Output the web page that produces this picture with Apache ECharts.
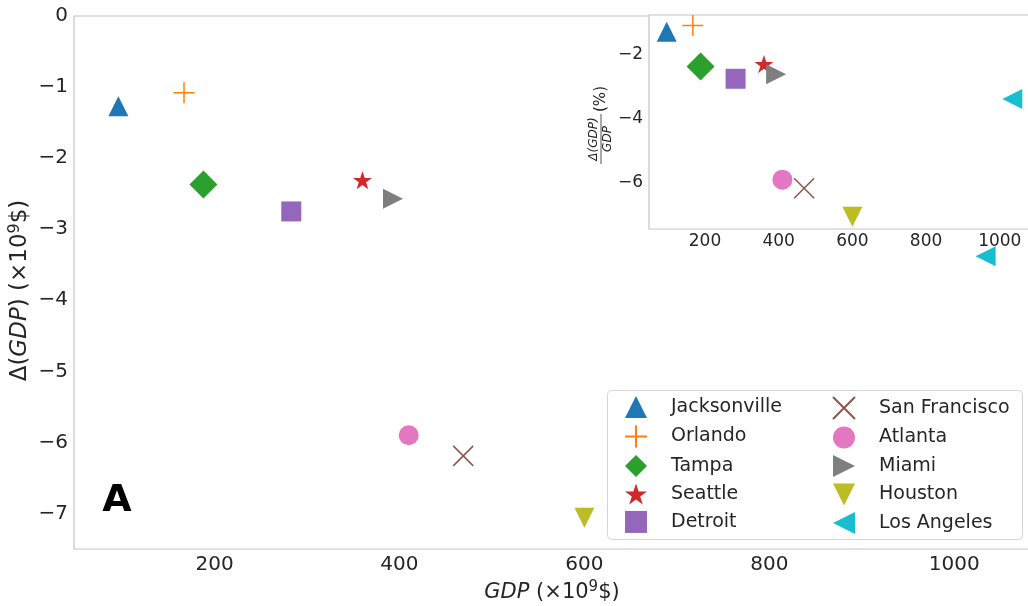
<!DOCTYPE html>
<html>
<head>
<meta charset="utf-8">
<script src="https://cdn.jsdelivr.net/npm/echarts@6/dist/echarts.min.js"></script>
<style>
  html, body { margin: 0; padding: 0; background: #fff; }
  #chart { width: 1028px; height: 606px; }
</style>
</head>
<body>
<div id="chart"></div>
<script>
// City GDP (x10^9 $) against the GDP change, in absolute terms and in percent
const cities = ['Jacksonville', 'Orlando', 'Tampa', 'Seattle', 'Detroit',
                'San Francisco', 'Atlanta', 'Miami', 'Houston', 'Los Angeles'];
const gdp = [96, 167, 188, 360, 283, 469, 410, 393, 600, 1034];
const dGdp = [-1.27, -1.08, -2.37, -2.31, -2.75, -6.19, -5.90, -2.57, -7.06, -3.38];
const dGdpPct = [-1.28, -1.09, -2.37, -2.29, -2.75, -6.17, -5.90, -2.61, -7.06, -3.38];

const gdpTicks = [200, 400, 600, 800, 1000];
const dGdpTicks = [-7, -6, -5, -4, -3, -2, -1, 0];
const pctTicks = [-6, -4, -2];

const colors = ['#1f77b4', '#ff7f0e', '#2ca02c', '#d62728', '#9467bd',
                '#8c564b', '#e377c2', '#7f7f7f', '#bcbd22', '#17becf'];

const FONT = 'DejaVu Sans';
const TXT = '#262626';
const SPINE = '#c4c4c4';

function starPath() {
  let d = '';
  for (let i = 0; i < 10; i++) {
    const r = i % 2 ? 0.382 : 1;
    const a = Math.PI / 2 + i * Math.PI / 5;
    d += (i ? 'L' : 'M') + (r * Math.cos(a)).toFixed(4) + ',' + (-r * Math.sin(a)).toFixed(4);
  }
  return 'path://' + d + 'Z';
}

// marker look per city: shape, size, outline-only
const markers = [
  { symbol: 'path://M0,-1L1,1L-1,1Z', size: 20 },          // triangle up
  { symbol: 'path://M0,-1L0,1M-1,0L1,0', size: 21, line: true }, // plus
  { symbol: 'diamond', size: 28 },
  { symbol: starPath(), size: 19 },
  { symbol: 'rect', size: 20 },
  { symbol: 'path://M-1,-1L1,1M-1,1L1,-1', size: 20, line: true }, // cross
  { symbol: 'circle', size: 20 },
  { symbol: 'path://M-1,-1L1,0L-1,1Z', size: 20 },         // triangle right
  { symbol: 'path://M-1,-1L1,-1L0,1Z', size: 20 },         // triangle down
  { symbol: 'path://M1,-1L-1,0L1,1Z', size: 20 }           // triangle left
];

const minus = v => String(v).replace('-', '\u2212');
const plain = v => String(v);

function makeSeries(yValues, axisIdx, z) {
  return cities.map((c, i) => {
    const m = markers[i];
    return {
      type: 'scatter',
      name: c,
      xAxisIndex: axisIdx,
      yAxisIndex: axisIdx,
      data: [[gdp[i], yValues[i]]],
      symbol: m.symbol,
      symbolSize: m.size,
      symbolKeepAspect: true,
      itemStyle: m.line
        ? { color: colors[i], borderColor: colors[i], borderWidth: 1.5, opacity: 1 }
        : { color: colors[i], borderWidth: 0, opacity: 1 },
      emphasis: { disabled: true },
      z: z
    };
  });
}

function nameRich(size) {
  return {
    n: { fontFamily: FONT, fontSize: size, color: TXT },
    it: { fontFamily: FONT, fontSize: size, fontStyle: 'italic', color: TXT },
    sup: { fontFamily: FONT, fontSize: Math.round(size * 0.7), color: TXT, padding: [0, 0, 10, 0] }
  };
}

const chart = echarts.init(document.getElementById('chart'), null, { renderer: 'canvas' });

const legendCommon = {
  orient: 'vertical',
  itemWidth: 22,
  itemHeight: 22,
  itemGap: 6.5,
  selectedMode: false,
  textStyle: { fontFamily: FONT, fontSize: 19, color: TXT, padding: [0, 0, 0, 19] },
  z: 5
};

const axisBase = {
  type: 'value',
  axisLine: { show: false },
  splitLine: { show: false },
  axisTick: { show: false }
};

chart.setOption({
  animation: false,
  backgroundColor: '#fff',
  textStyle: { fontFamily: FONT },
  grid: [
    { left: 74, top: 16, right: -2, bottom: 57, outerBoundsMode: 'none', containLabel: false,
      show: true, borderColor: SPINE, borderWidth: 1.2, backgroundColor: 'transparent' },
    { left: 649, top: 15, right: -2, bottom: 377, outerBoundsMode: 'none', containLabel: false,
      show: true, borderColor: SPINE, borderWidth: 1.2, backgroundColor: '#fff', z: 3 }
  ],
  xAxis: [
    Object.assign({}, axisBase, {
      gridIndex: 0, min: 48, max: 1082,
      axisLabel: { customValues: gdpTicks, formatter: plain, fontFamily: FONT, fontSize: 20, color: TXT, margin: 6 },
      name: '{it|GDP}{n| (\u00d710}{sup|9}{n|$)}',
      nameLocation: 'middle', nameGap: 31, nameMoveOverlap: false,
      nameTextStyle: { rich: nameRich(21) }
    }),
    Object.assign({}, axisBase, {
      gridIndex: 1, min: 48, max: 1082,
      axisLabel: { customValues: gdpTicks, formatter: plain, fontFamily: FONT, fontSize: 17, color: TXT, margin: 4 },
      z: 4
    })
  ],
  yAxis: [
    Object.assign({}, axisBase, {
      gridIndex: 0, min: -7.5, max: 0,
      axisLabel: { customValues: dGdpTicks, formatter: minus, fontFamily: FONT, fontSize: 20, color: TXT, margin: 6 },
      name: '{n|\u0394(}{it|GDP}{n|) (\u00d710}{sup|9}{n|$)}',
      nameLocation: 'middle', nameGap: 41, nameMoveOverlap: false,
      nameTextStyle: { rich: nameRich(23), padding: [0, 16, 0, 0] }
    }),
    Object.assign({}, axisBase, {
      gridIndex: 1, min: -7.44, max: -0.76,
      axisLabel: { customValues: pctTicks, formatter: minus, fontFamily: FONT, fontSize: 17, color: TXT, margin: 6 },
      z: 4
    })
  ],
  legend: [
    Object.assign({ data: cities.slice(0, 5), left: 619, top: 391 }, legendCommon),
    Object.assign({ data: cities.slice(5), left: 827, top: 391 }, legendCommon)
  ],
  graphic: [
    {
      type: 'rect', z: 4,
      shape: { x: 607.5, y: 390.5, width: 415, height: 149, r: 4 },
      style: { fill: '#fff', stroke: '#d6d6d6', lineWidth: 1 }
    },
    {
      type: 'text', z: 4,
      style: { text: 'A', x: 117, y: 501, align: 'center', verticalAlign: 'middle',
               font: 'bold 38px "DejaVu Sans"', fill: '#000' }
    },
    {
      // inset y-axis title: fraction d(GDP)/GDP followed by (%)
      type: 'group', x: 601, y: 125, rotation: Math.PI / 2, z: 6,
      children: [
        { type: 'text', style: { text: '\u0394(GDP)', x: -14, y: -7, align: 'center', verticalAlign: 'middle',
            font: 'italic 12px "DejaVu Sans"', fill: TXT } },
        { type: 'line', shape: { x1: -39, y1: 0, x2: 11, y2: 0 }, style: { stroke: TXT, lineWidth: 0.8 } },
        { type: 'text', style: { text: 'GDP', x: -14, y: 7, align: 'center', verticalAlign: 'middle',
            font: 'italic 12px "DejaVu Sans"', fill: TXT } },
        { type: 'text', style: { text: '(%)', x: 26, y: 0, align: 'center', verticalAlign: 'middle',
            font: '15px "DejaVu Sans"', fill: TXT } }
      ]
    }
  ],
  series: makeSeries(dGdp, 0, 2).concat(makeSeries(dGdpPct, 1, 5))
});
</script>
</body>
</html>
